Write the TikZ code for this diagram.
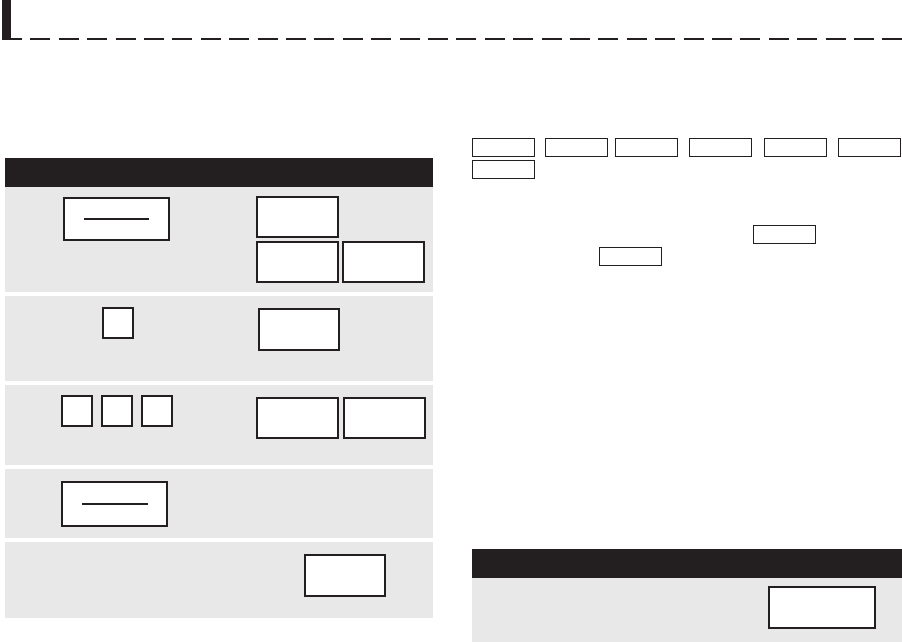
\documentclass[tikz,border=0pt]{standalone}
\usepackage{xcolor}
\usepackage{tikz}
\usetikzlibrary{positioning, calc}
\definecolor{ink}{RGB}{35, 31, 32}
\definecolor{rowgray}{RGB}{232, 232, 232}

\begin{document}
\begin{tikzpicture}[
    x=1pt, y=-1pt,
    rowband/.style={rectangle, fill=rowgray, inner sep=0pt, minimum width=428pt},
    headband/.style={rectangle, fill=ink, inner sep=0pt, minimum height=29pt},
    bigbox/.style={rectangle, draw=ink, line width=2pt, fill=white, inner sep=0pt, minimum width=81pt, minimum height=40pt},
    sqbox/.style={rectangle, draw=ink, line width=2pt, fill=white, inner sep=0pt, minimum width=30pt, minimum height=30pt},
    tagbox/.style={rectangle, draw=ink, line width=1pt, fill=white, inner sep=0pt, minimum width=62pt, minimum height=18pt},
    dashline/.style={draw=ink, line width=2pt}
]
\useasboundingbox (0,0) rectangle (902,642);

% Title bar
\fill[ink] (2,0) rectangle (11,39.7);
\coordinate (rulestart) at (2,39);
\coordinate (ruleend) at (902,39);
\draw[ink, line width=1.5pt, dash pattern=on 20pt off 8.4pt] (rulestart) -- (ruleend);

% Left table
\node[headband, minimum width=428pt] (lhead) at (219,172.5) {};
\node[rowband, minimum height=105pt] (row1) at (219,239.5) {};
\node[rowband, minimum height=85pt] (row2) at (219,338.5) {};
\node[rowband, minimum height=80pt] (row3) at (219,425) {};
\node[rowband, minimum height=69pt] (row4) at (219,503.5) {};
\node[rowband, minimum height=76pt] (row5) at (219,580) {};

% Row 1
\node[bigbox, minimum width=105pt, minimum height=42pt] (r1a) at (116.5,219) {};
\draw[dashline] ([xshift=21pt]r1a.west) -- ([xshift=-21pt]r1a.east);
\node[bigbox] (r1b) at (297.5,217) {};
\node[bigbox] (r1c) at (297.5,262) {};
\node[bigbox] (r1d) at (383.5,262) {};

% Row 2
\node[sqbox] (r2a) at (118,323) {};
\node[bigbox, minimum width=80pt, minimum height=41pt] (r2b) at (299,329.5) {};

% Row 3
\node[sqbox] (r3a) at (77,411) {};
\node[sqbox] (r3b) at (117,411) {};
\node[sqbox] (r3c) at (157,411) {};
\node[bigbox] (r3d) at (297.5,418) {};
\node[bigbox] (r3e) at (384.5,418) {};

% Row 4
\node[bigbox, minimum width=105pt, minimum height=44pt] (r4a) at (114.5,504) {};
\draw[dashline] ([xshift=21pt]r4a.west) -- ([xshift=-20pt]r4a.east);

% Row 5
\node[bigbox, minimum width=80pt, minimum height=41pt] (r5a) at (345,575.5) {};

% Right column tags
\node[tagbox] (t1) at (503.5,147.5) {};
\node[tagbox] (t2) at (576.5,147.5) {};
\node[tagbox] (t3) at (646.5,147.5) {};
\node[tagbox] (t4) at (720,147.5) {};
\node[tagbox] (t5) at (795.5,147.5) {};
\node[tagbox] (t6) at (869,147.5) {};
\node[tagbox] (t7) at (503.5,169) {};
\node[tagbox] (t8) at (784.5,234) {};
\node[tagbox] (t9) at (630,256) {};

% Right table
\node[headband, minimum width=430pt] (rhead) at (687,563.5) {};
\node[rowband, minimum width=430pt, minimum height=64pt] (rrow) at (687,610) {};
\node[bigbox, minimum width=106pt, minimum height=41pt] (rbox) at (822,607.5) {};

\end{tikzpicture}
\end{document}
